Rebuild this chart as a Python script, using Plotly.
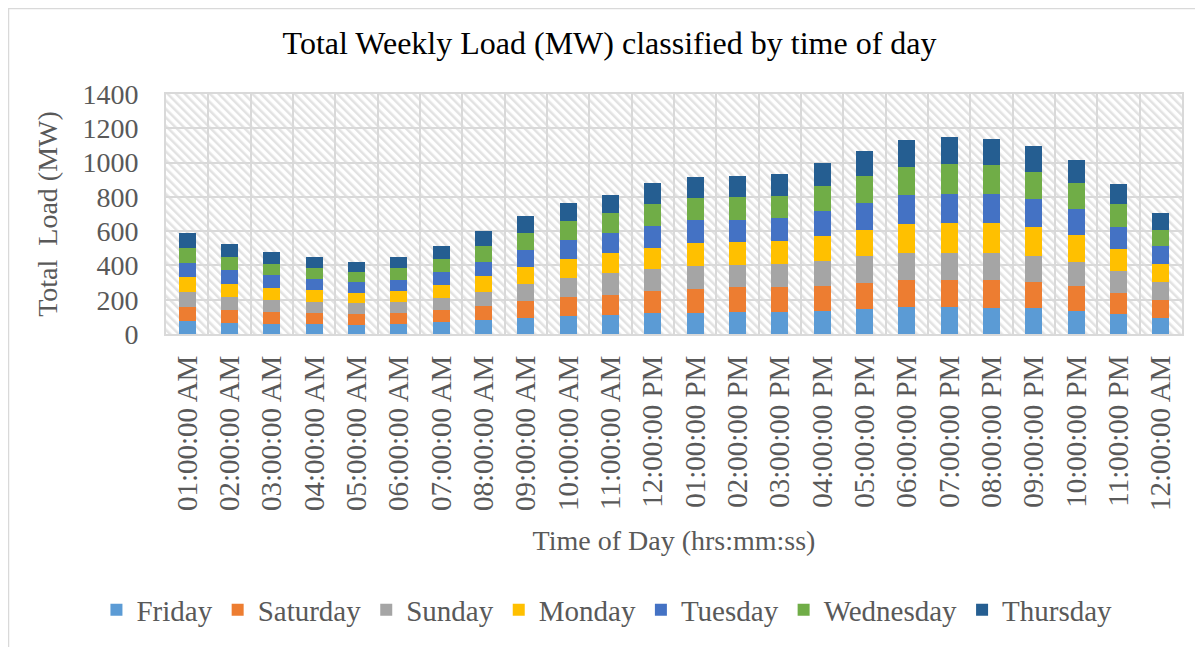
import base64
import plotly.graph_objects as go

times = ["01:00:00 AM", "02:00:00 AM", "03:00:00 AM", "04:00:00 AM", "05:00:00 AM", "06:00:00 AM",
         "07:00:00 AM", "08:00:00 AM", "09:00:00 AM", "10:00:00 AM", "11:00:00 AM", "12:00:00 PM",
         "01:00:00 PM", "02:00:00 PM", "03:00:00 PM", "04:00:00 PM", "05:00:00 PM", "06:00:00 PM",
         "07:00:00 PM", "08:00:00 PM", "09:00:00 PM", "10:00:00 PM", "11:00:00 PM", "12:00:00 AM"]

friday    = [76, 66, 60, 58, 54, 58, 72, 83, 95, 107, 113, 121, 123, 128, 128, 136, 146, 156, 158, 153, 150, 136, 115, 92]
saturday  = [80, 74, 68, 64, 62, 62, 68, 82, 97, 109, 117, 130, 140, 144, 144, 146, 152, 158, 158, 162, 152, 142, 126, 105]
sunday    = [87, 78, 72, 66, 64, 68, 72, 82, 99, 113, 123, 128, 136, 131, 134, 144, 156, 158, 158, 158, 155, 144, 127, 105]
monday    = [87, 76, 70, 66, 60, 64, 74, 92, 99, 109, 117, 124, 134, 131, 134, 146, 153, 169, 173, 173, 166, 156, 130, 105]
tuesday   = [87, 78, 72, 64, 64, 64, 78, 83, 101, 109, 117, 128, 132, 132, 134, 146, 158, 167, 171, 169, 163, 150, 128, 105]
wednesday = [87, 76, 68, 68, 58, 68, 76, 93, 101, 113, 117, 128, 130, 132, 132, 144, 158, 167, 173, 169, 161, 153, 131, 96]
thursday  = [87, 76, 68, 64, 58, 68, 76, 86, 97, 103, 109, 121, 123, 124, 128, 138, 146, 158, 158, 153, 148, 136, 117, 95]

series = [
    ("Friday", friday, "#5B9BD5"),
    ("Saturday", saturday, "#ED7D31"),
    ("Sunday", sunday, "#A5A5A5"),
    ("Monday", monday, "#FFC000"),
    ("Tuesday", tuesday, "#4472C4"),
    ("Wednesday", wednesday, "#70AD47"),
    ("Thursday", thursday, "#255E91"),
]

SERIF = "Liberation Serif, Times New Roman, serif"
GREY = "#595959"

fig = go.Figure()
for name, vals, col in series:
    fig.add_trace(go.Bar(x=times, y=vals, name=name, marker=dict(color=col, line=dict(width=0))))

hatch = ('<svg xmlns="http://www.w3.org/2000/svg" width="1016" height="240">'
         '<defs><pattern id="h" width="6" height="6" patternUnits="userSpaceOnUse" patternTransform="rotate(-45)">'
         '<rect width="6" height="6" fill="#ffffff"/><rect width="2.5" height="6" fill="#e2e2e2"/></pattern></defs>'
         '<rect width="100%" height="100%" fill="url(#h)"/></svg>')
hatch_uri = "data:image/svg+xml;base64," + base64.b64encode(hatch.encode()).decode()

W, H = 1195, 639
L, T, PW, PH = 158, 86, 1016, 240

fig.update_layout(
    width=W, height=H,
    margin=dict(l=L, r=W - L - PW, t=T, b=H - T - PH, autoexpand=False),
    barmode="stack", bargap=0.6,
    paper_bgcolor="white", plot_bgcolor="rgba(0,0,0,0)",
    font=dict(family=SERIF, color=GREY, size=28),
    title=dict(text="Total Weekly Load (MW) classified by time of day",
               font=dict(family=SERIF, size=32, color="#000000"),
               x=0.5034, xref="container", xanchor="center", y=0.945, yanchor="middle"),
    legend=dict(orientation="h", x=0.434, xanchor="center", y=-1.15, yanchor="middle",
                font=dict(family=SERIF, size=29, color=GREY), traceorder="normal"),
    images=[dict(source=hatch_uri, xref="paper", yref="paper", x=0, y=1, sizex=1, sizey=1,
                 xanchor="left", yanchor="top", sizing="stretch", layer="below")],
    shapes=[dict(type="rect", xref="paper", yref="paper",
                 x0=(0.5 - L) / PW, x1=(W + 5 - L) / PW,
                 y0=-(H + 5 - T - PH) / PH, y1=(T + PH - 0.5) / PH,
                 line=dict(color="#d9d9d9", width=1.5), fillcolor="rgba(0,0,0,0)", layer="below")],
)

fig.update_xaxes(
    automargin=False,
    tickangle=-90, tickson="boundaries", showgrid=True, gridcolor="#d9d9d9", gridwidth=2,
    showline=True, mirror=True, linecolor="#d9d9d9", linewidth=2, ticks="",
    tickfont=dict(family=SERIF, size=29, color=GREY), ticklabelstandoff=8,
    title=dict(text="Time of Day (hrs:mm:ss)", font=dict(family=SERIF, size=28, color=GREY), standoff=20),
)
fig.update_yaxes(
    automargin=False,
    range=[0, 1400], dtick=200, showgrid=True, gridcolor="#d9d9d9", gridwidth=2,
    showline=True, mirror=True, linecolor="#d9d9d9", linewidth=2, ticks="", zeroline=False,
    tickfont=dict(family=SERIF, size=28, color=GREY), ticklabelstandoff=20,
    title=dict(text="Total\u00a0 Load (MW)", font=dict(family=SERIF, size=28, color=GREY), standoff=17),
)

fig.write_html("out.html")
